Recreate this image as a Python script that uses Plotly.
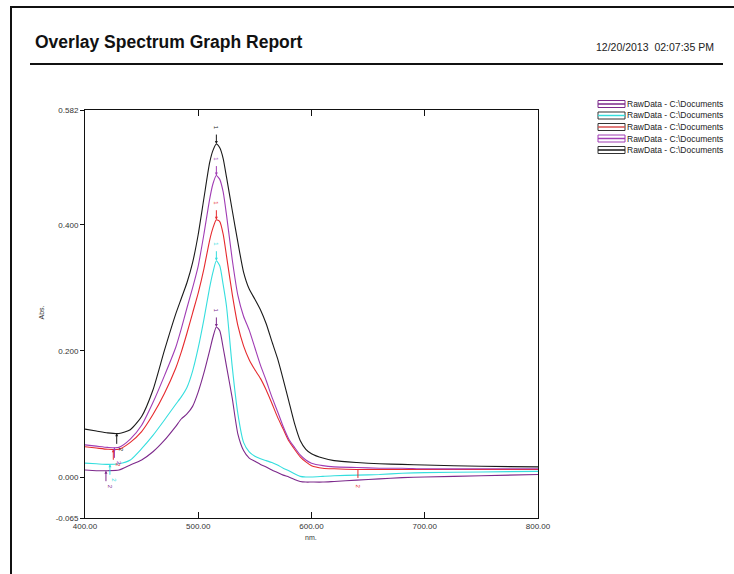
import numpy as np
import plotly.graph_objects as go

# ---------------- data ----------------
wavelength = [400, 410, 420, 430, 440, 450, 460, 470, 480, 485, 490, 495, 500, 505, 510,
              513, 516, 519, 522, 525, 530, 535, 540, 545, 550, 555, 560, 565, 570, 575,
              580, 585, 590, 595, 600, 610, 620, 640, 660, 680, 700, 750, 800]

purple_low = [0.011, 0.010, 0.010, 0.011, 0.019, 0.027, 0.040, 0.058, 0.080, 0.092, 0.100, 0.112,
              0.135, 0.165, 0.200, 0.222, 0.238, 0.232, 0.205, 0.175, 0.125, 0.068, 0.042, 0.030,
              0.025, 0.020, 0.016, 0.011, 0.007, 0.003, 0.000, -0.004, -0.007, -0.008, -0.008,
              -0.008, -0.007, -0.005, -0.003, -0.001, 0.000, 0.002, 0.004]

cyan = [0.022, 0.021, 0.020, 0.021, 0.027, 0.045, 0.066, 0.090, 0.115, 0.127, 0.142, 0.168,
        0.205, 0.250, 0.300, 0.325, 0.343, 0.335, 0.305, 0.270, 0.175, 0.100, 0.055, 0.040,
        0.033, 0.029, 0.026, 0.023, 0.019, 0.014, 0.010, 0.005, 0.001, 0.000, 0.000,
        0.001, 0.002, 0.003, 0.004, 0.006, 0.007, 0.008, 0.009]

red = [0.048, 0.046, 0.044, 0.044, 0.055, 0.072, 0.099, 0.132, 0.172, 0.198, 0.228, 0.260,
       0.292, 0.330, 0.375, 0.395, 0.408, 0.405, 0.385, 0.350, 0.290, 0.240, 0.208, 0.186,
       0.170, 0.156, 0.138, 0.117, 0.095, 0.076, 0.057, 0.044, 0.032, 0.024, 0.018,
       0.014, 0.013, 0.012, 0.012, 0.012, 0.012, 0.012, 0.012]

purple_high = [0.051, 0.049, 0.047, 0.047, 0.060, 0.082, 0.118, 0.160, 0.205, 0.235, 0.268, 0.300,
               0.335, 0.385, 0.440, 0.465, 0.478, 0.472, 0.452, 0.415, 0.345, 0.288, 0.255, 0.233,
               0.205, 0.177, 0.153, 0.127, 0.104, 0.080, 0.060, 0.047, 0.035, 0.027, 0.022,
               0.018, 0.016, 0.015, 0.014, 0.014, 0.013, 0.013, 0.013]

black = [0.076, 0.073, 0.070, 0.069, 0.075, 0.096, 0.138, 0.200, 0.258, 0.283, 0.308, 0.340,
         0.385, 0.442, 0.498, 0.518, 0.528, 0.522, 0.505, 0.475, 0.423, 0.372, 0.325, 0.298,
         0.282, 0.265, 0.243, 0.215, 0.188, 0.155, 0.120, 0.085, 0.058, 0.044, 0.037,
         0.030, 0.026, 0.023, 0.021, 0.020, 0.019, 0.017, 0.016]

series_names = ["RawData - C:\\Documents"] * 5
series_values = [purple_low, cyan, red, purple_high, black]
series_colors = ["#7d2a8c", "#35dede", "#e62a2e", "#a03cb4", "#1a1a1a"]
legend_colors = ["#7d2a8c", "#35dede", "#d9504f", "#a03cb4", "#1a1a1a"]

peak_nm = [516, 516, 516, 516, 516]
valley_nm = [418.5, 422, 425, 426, 428]
extra_valley_nm = 641   # second valley on red trace

x_ticks = [400, 500, 600, 700, 800]
x_tick_labels = ["400.00", "500.00", "600.00", "700.00", "800.00"]
y_ticks = [-0.065, 0.0, 0.2, 0.4, 0.582]
y_tick_labels = ["-0.065", "0.000", "0.200", "0.400", "0.582"]

title_text = "Overlay Spectrum Graph Report"
date_text = "12/20/2013  02:07:35 PM"

# ---------------- layout geometry ----------------
W, H = 734, 574
L, R, T, B = 85, 538, 110, 518   # plot area in pixels
PW, PH = R - L, B - T


def px(xp):
    return (xp - L) / PW


def py(yp):
    return (B - yp) / PH


FONT = "Liberation Sans, Arial, sans-serif"

fig = go.Figure()
for name, vals, col in zip(series_names, series_values, series_colors):
    fig.add_trace(go.Scatter(x=wavelength, y=vals, mode="lines", name=name,
                             line=dict(color=col, width=1.1, shape="spline", smoothing=0.6),
                             showlegend=False, hoverinfo="x+y"))

annotations = []
shapes = []

# peak markers "1"
for vals, col, pk in zip(series_values, series_colors, peak_nm):
    yv = float(np.interp(pk, wavelength, vals))
    annotations.append(dict(x=pk, y=yv, xref="x", yref="y", text="", showarrow=True,
                            ax=0, ay=-11, arrowhead=2, arrowsize=0.6, arrowwidth=1,
                            arrowcolor=col))
    annotations.append(dict(x=pk, y=yv, xref="x", yref="y", text="1", showarrow=False,
                            yshift=16, textangle=90, font=dict(size=6, color=col, family=FONT)))

# valley markers "2"
for vals, col, vn in zip(series_values, series_colors, valley_nm):
    yv = float(np.interp(vn, wavelength, vals))
    annotations.append(dict(x=vn, y=yv, xref="x", yref="y", text="", showarrow=True,
                            ax=0, ay=12, arrowhead=2, arrowsize=0.6, arrowwidth=1,
                            arrowcolor=col))
    annotations.append(dict(x=vn, y=yv, xref="x", yref="y", text="2", showarrow=False,
                            xshift=4, yshift=-16, textangle=90,
                            font=dict(size=6, color=col, family=FONT)))
yv = float(np.interp(extra_valley_nm, wavelength, red))
annotations.append(dict(x=extra_valley_nm, y=yv, xref="x", yref="y", text="", showarrow=True,
                        ax=0, ay=10, arrowhead=0, arrowwidth=1, arrowcolor=series_colors[2]))
annotations.append(dict(x=extra_valley_nm, y=yv, xref="x", yref="y", text="2", showarrow=False,
                        yshift=-17, textangle=90, font=dict(size=6, color=series_colors[2], family=FONT)))

# title, date
annotations.append(dict(x=px(33), y=py(42), xref="paper", yref="paper", text=title_text,
                        showarrow=False, xanchor="left", yanchor="middle",
                        font=dict(size=17.5, color="#111111", family=FONT, weight="bold")))
annotations.append(dict(x=px(716), y=py(47), xref="paper", yref="paper", text=date_text,
                        showarrow=False, xanchor="right", yanchor="middle",
                        font=dict(size=10.5, color="#222222", family=FONT)))
# axis titles
annotations.append(dict(x=px(35), y=py(313), xref="paper", yref="paper", text="Abs.",
                        showarrow=False, textangle=-90, font=dict(size=7, color="#333333", family=FONT)))
annotations.append(dict(x=px(311), y=py(532), xref="paper", yref="paper", text="nm.",
                        showarrow=False, yanchor="top", font=dict(size=7, color="#333333", family=FONT)))

# frame of the report page and title rule
shapes.append(dict(type="line", xref="paper", yref="paper", x0=px(11), x1=px(11),
                   y0=py(7), y1=py(600), line=dict(color="#111111", width=2)))
shapes.append(dict(type="line", xref="paper", yref="paper", x0=px(10), x1=px(760),
                   y0=py(7), y1=py(7), line=dict(color="#111111", width=2)))
shapes.append(dict(type="line", xref="paper", yref="paper", x0=px(30), x1=px(723),
                   y0=py(64), y1=py(64), line=dict(color="#111111", width=2)))

# legend (manual, boxed symbols)
for i, (name, col) in enumerate(zip(series_names, legend_colors)):
    yc = 104 + i * 11.5
    border = col if i in (0, 3) else "#333333"
    shapes.append(dict(type="rect", xref="paper", yref="paper", x0=px(598), x1=px(625),
                       y0=py(yc - 3.5), y1=py(yc + 3.5), line=dict(color=border, width=1),
                       fillcolor="white"))
    shapes.append(dict(type="line", xref="paper", yref="paper", x0=px(598), x1=px(625),
                       y0=py(yc), y1=py(yc), line=dict(color=col, width=1.5)))
    annotations.append(dict(x=px(626), y=py(yc), xref="paper", yref="paper", text=name,
                            showarrow=False, xanchor="left", yanchor="middle", borderpad=0,
                            font=dict(size=8.5, color="#222222", family=FONT)))

fig.update_layout(
    width=W, height=H,
    margin=dict(l=L, r=W - R, t=T, b=H - B),
    paper_bgcolor="white", plot_bgcolor="white",
    font=dict(family=FONT, size=8, color="#333333"),
    annotations=annotations, shapes=shapes,
    showlegend=False,
)
fig.update_xaxes(range=[400, 800], tickvals=x_ticks, ticktext=x_tick_labels,
                 ticks="inside", ticklen=6, tickcolor="#111111", mirror="ticks",
                 showline=True, linecolor="#111111", linewidth=1, showgrid=False,
                 zeroline=False, tickfont=dict(size=8, color="#333333"))
fig.update_yaxes(range=[-0.065, 0.582], tickvals=y_ticks, ticktext=y_tick_labels,
                 ticks="outside", ticklen=4, tickcolor="#111111", mirror=True,
                 showline=True, linecolor="#111111", linewidth=1, showgrid=False,
                 zeroline=False, tickfont=dict(size=8, color="#333333"))

fig.write_html("out.html", config={"displayModeBar": False},
               post_script="document.body.style.margin='0px';document.body.style.overflow='hidden';")
